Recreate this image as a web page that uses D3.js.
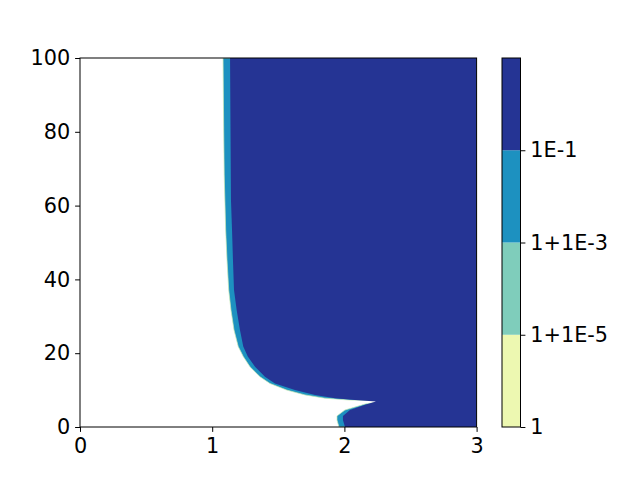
<!DOCTYPE html>
<html>
<head>
<meta charset="utf-8">
<script src="https://cdn.jsdelivr.net/npm/d3@7"></script>
<style>
  body { margin: 0; background: #fff; }
  svg text { font-family: "DejaVu Sans", sans-serif; font-size: 20.8px; }
</style>
</head>
<body>
<script>
// level edges, [x, y] pairs from top to bottom
var tealEdge = [
  [1.082, 100], [1.087, 80.5], [1.091, 68.3], [1.102, 53.4], [1.112, 45.3],
  [1.125, 37.1], [1.142, 31.7], [1.165, 26.3], [1.197, 21.8], [1.235, 19.1],
  [1.286, 16.3], [1.362, 13.6], [1.437, 11.8], [1.564, 10.0], [1.702, 8.7],
  [1.853, 7.8], [2.042, 7.3], [2.239, 7.2], [2.254, 6.8], [2.156, 6.2],
  [2.004, 4.6], [1.944, 3.0], [1.944, 1.9], [1.959, 0]
];
var darkEdge = [
  [1.135, 100], [1.138, 83.2], [1.142, 61.5], [1.150, 53.4], [1.157, 45.3],
  [1.165, 37.1], [1.185, 31.7], [1.210, 26.3], [1.235, 21.8], [1.269, 19.1],
  [1.324, 16.3], [1.399, 13.6], [1.475, 11.8], [1.626, 10.0], [1.778, 8.7],
  [1.929, 7.8], [2.080, 7.3], [2.239, 6.9], [2.156, 6.0], [2.042, 4.6],
  [1.989, 3.0], [1.989, 1.9], [2.004, 0]
];

var levelColors = ["#edf8b1", "#7fcdbb", "#1d91c0", "#253494"];
var levelLabels = ["1", "1+1E-5", "1+1E-3", "1E-1"];
var xTicks = [0, 1, 2, 3];
var yTicks = [0, 20, 40, 60, 80, 100];

drawChart();

function drawChart(){
  var W = 640, H = 480;
  var pLeft = 80, pRight = 476.6, pTop = 58, pBottom = 427;
  var fontSize = "20.8px";

  var svg = d3.select("body").append("svg")
    .attr("width", W)
    .attr("height", H);

  var x = d3.scaleLinear().domain([0, 3]).range([pLeft, pRight]);
  var y = d3.scaleLinear().domain([0, 100]).range([pBottom, pTop]);

  svg.append("clipPath").attr("id", "plotclip")
    .append("rect")
    .attr("x", pLeft).attr("y", pTop)
    .attr("width", pRight - pLeft).attr("height", pBottom - pTop);

  var plot = svg.append("g").attr("clip-path", "url(#plotclip)");

  function fillRight(edge){
    return d3.area()
      .y(function(d){ return y(d[1]); })
      .x0(function(d){ return x(d[0]); })
      .x1(x(3))(edge);
  }

  // thin light fringe just outside the teal band
  plot.append("path")
    .attr("d", fillRight(tealEdge))
    .attr("fill", levelColors[2])
    .attr("stroke", "#c7e9b4")
    .attr("stroke-width", 0.7);

  plot.append("path")
    .attr("d", fillRight(darkEdge))
    .attr("fill", levelColors[3]);

  // axes
  var xAxis = svg.append("g")
    .attr("transform", "translate(0," + pBottom + ")")
    .call(d3.axisBottom(x).tickValues(xTicks).tickFormat(d3.format("d"))
      .tickSize(4.9).tickSizeOuter(0).tickPadding(4.9));
  var yAxis = svg.append("g")
    .attr("transform", "translate(" + pLeft + ",0)")
    .call(d3.axisLeft(y).tickValues(yTicks).tickFormat(d3.format("d"))
      .tickSize(4.9).tickSizeOuter(0).tickPadding(4.9));

  // colorbar
  var cbLeft = 502, cbRight = 520.5;
  var cb = d3.scaleLinear().domain([0, levelColors.length]).range([pBottom, pTop]);

  svg.append("g").selectAll("rect")
    .data(levelColors)
    .enter()
    .append("rect")
    .attr("x", cbLeft)
    .attr("y", function(d, i){ return cb(i + 1); })
    .attr("width", cbRight - cbLeft)
    .attr("height", function(d, i){ return cb(i) - cb(i + 1); })
    .attr("fill", function(d){ return d; });

  var cbAxis = svg.append("g")
    .attr("transform", "translate(" + cbRight + ",0)")
    .call(d3.axisRight(cb).tickValues([0, 1, 2, 3])
      .tickFormat(function(d){ return levelLabels[d]; })
      .tickSize(4.9).tickSizeOuter(0).tickPadding(4.9));

  [xAxis, yAxis, cbAxis].forEach(function(a){
    a.select(".domain").remove();
    a.attr("font-size", fontSize).attr("font-family", "DejaVu Sans");
    a.selectAll("text")
      .attr("fill", "#000")
      .attr("font-size", fontSize)
      .style("font-size", fontSize);
    a.selectAll("line").attr("stroke", "#000").attr("stroke-width", 1);
  });
  xAxis.selectAll("text").attr("dy", "0.76em");

  // frames
  [[pLeft, pRight], [cbLeft, cbRight]].forEach(function(f){
    svg.append("rect")
      .attr("x", f[0]).attr("y", pTop)
      .attr("width", f[1] - f[0]).attr("height", pBottom - pTop)
      .attr("fill", "none")
      .attr("stroke", "#000")
      .attr("stroke-width", 1);
  });
}
</script>
</body>
</html>
